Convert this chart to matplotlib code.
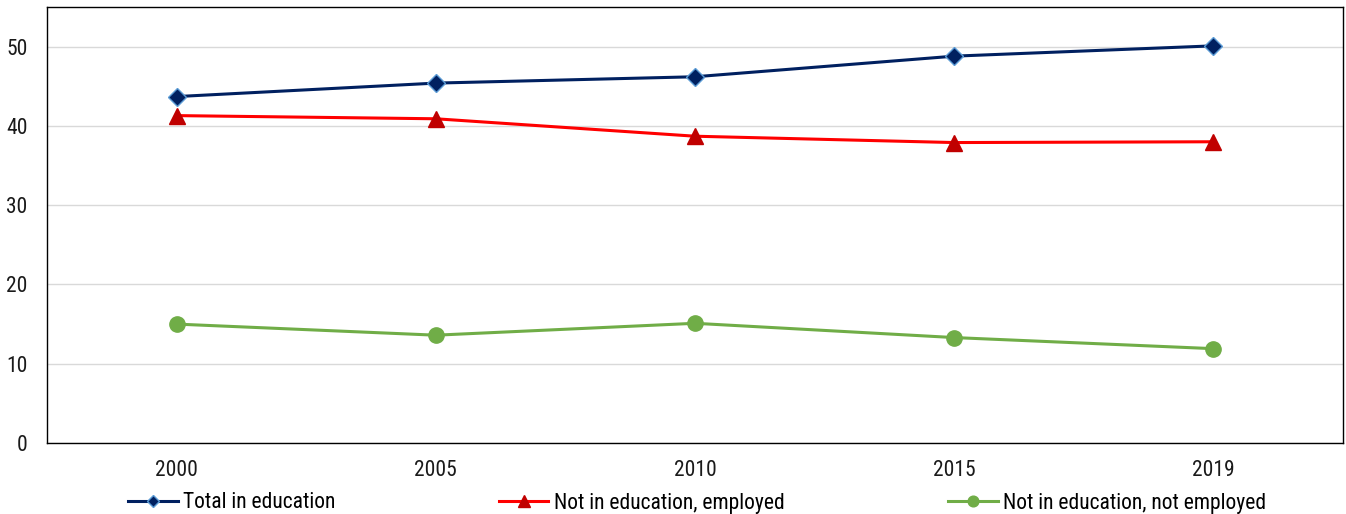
import matplotlib
matplotlib.use('Agg')
from matplotlib import pyplot as plt
from matplotlib import font_manager
import numpy as np

years = ['2000', '2005', '2010', '2015', '2019']
total_edu = [43.7, 45.4, 46.2, 48.8, 50.1]
not_edu_emp = [41.3, 40.9, 38.7, 37.9, 38.0]
not_edu_not_emp = [15.0, 13.6, 15.1, 13.3, 11.9]

names = {f.name for f in font_manager.fontManager.ttflist}
fams = [f for f in ['Roboto Condensed', 'Liberation Sans Narrow', 'Liberation Sans'] if f in names]
plt.rcParams['font.family'] = fams + ['DejaVu Sans']
fs = 15.5

fig = plt.figure(figsize=(13.46, 5.14), dpi=100)
ax = fig.add_axes([47/1346, 1-443/514, 1296/1346, 436/514])

x = np.arange(len(years))
ax.plot(x, total_edu, color='#002060', lw=2.2, marker='D', ms=9,
        mfc='#002060', mec='#5b9bd5', mew=1, label='Total in education', zorder=4)
ax.plot(x, not_edu_emp, color='#ff0000', lw=2.2, marker='^', ms=12,
        mfc='#c00000', mec='#c00000', label='Not in education, employed', zorder=3)
ax.plot(x, not_edu_not_emp, color='#70ad47', lw=2.2, marker='o', ms=11,
        mfc='#70ad47', mec='#70ad47', label='Not in education, not employed', zorder=3)

ax.set_xlim(-0.5, len(years) - 0.5)
ax.set_ylim(0, 55)
ax.set_yticks(range(0, 51, 10))
ax.set_xticks(x)
ax.set_xticklabels(years)
ax.grid(axis='y', color='#d9d9d9', lw=1)
ax.set_axisbelow(True)
ax.tick_params(length=0, colors='#1a1a1a', labelsize=fs)
ax.tick_params(axis='x', pad=12)
ax.tick_params(axis='y', pad=14)
for s in ax.spines.values():
    s.set_color('#000000')
    s.set_linewidth(1)

fig.legend(loc='center left', bbox_to_anchor=(128/1346, 1 - 503/514),
           ncol=3, frameon=False, fontsize=fs, handlelength=2.3,
           handletextpad=0.25, borderaxespad=0, borderpad=0,
           columnspacing=7.6, markerscale=0.7)

fig.savefig('out.png', dpi=100)
